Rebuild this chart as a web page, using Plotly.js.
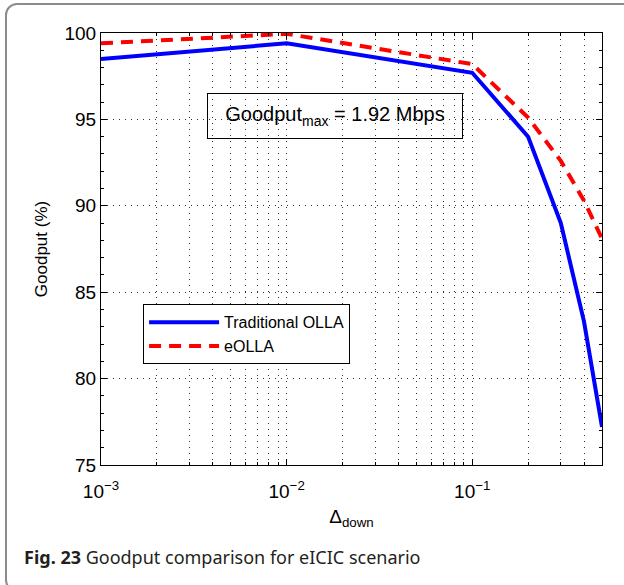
<!DOCTYPE html>
<html>
<head>
<meta charset="utf-8">
<script src="https://cdn.plot.ly/plotly-3.0.1.min.js"></script>
<style>
  html, body { margin: 0; padding: 0; background: #fff; }
  #frame { position: absolute; left: 5px; top: 3px; width: 700px; height: 585px;
           border: 2px solid #8c8c8c; border-radius: 12px; }
  #chart { position: absolute; left: 0; top: 0; width: 624px; height: 585px; }
</style>
</head>
<body>
<div id="frame"></div>
<div id="chart"></div>
<script>
// Data
const deltaDown = [0.001, 0.01, 0.1, 0.2, 0.3, 0.4, 0.5];
const traditionalOLLA = [98.5, 99.4, 97.7, 94.0, 89.0, 83.3, 77.2];
const eOLLA = [99.4, 99.95, 98.2, 95.1, 92.6, 90.3, 88.1];
const seriesNames = ['Traditional OLLA', 'eOLLA'];

const xMajorTicks = [0.001, 0.01, 0.1];
const xMajorLabels = ['10<sup>\u22123</sup>', '10<sup>\u22122</sup>', '10<sup>\u22121</sup>'];
const xMinorTicks = [0.002, 0.003, 0.004, 0.005, 0.006, 0.007, 0.008, 0.009,
                     0.02, 0.03, 0.04, 0.05, 0.06, 0.07, 0.08, 0.09,
                     0.2, 0.3, 0.4];
const yTicks = [75, 80, 85, 90, 95, 100];

const font = "'Liberation Sans', Arial, Helvetica, sans-serif";
const gridDash = '1px,5px';
const gridColor = '#333';

const traces = [
  { x: deltaDown, y: traditionalOLLA, name: seriesNames[0], type: 'scatter', mode: 'lines',
    line: { color: '#0000ff', width: 4 } },
  { x: deltaDown, y: eOLLA, name: seriesNames[1], type: 'scatter', mode: 'lines',
    line: { color: '#ff0000', width: 4, dash: '12px,8px' } }
];

const layout = {
  width: 624, height: 585,
  paper_bgcolor: 'rgba(0,0,0,0)', plot_bgcolor: '#fff',
  margin: { l: 101, r: 22, t: 33, b: 120 },
  font: { family: font, size: 19, color: '#000' },
  showlegend: true,
  legend: {
    x: 0.084, y: 0.372, xanchor: 'left', yanchor: 'top',
    bgcolor: '#fff', bordercolor: '#000', borderwidth: 1,
    font: { family: font, size: 16, color: '#000' },
    itemwidth: 70, tracegroupgap: 0
  },
  xaxis: {
    type: 'log', range: [-3, Math.log10(0.5)],
    tickmode: 'array', tickvals: xMajorTicks, ticktext: xMajorLabels,
    ticks: 'inside', ticklen: 6, tickcolor: '#000', ticklabelstandoff: 9,
    showline: true, linecolor: '#000', linewidth: 1, mirror: 'ticks',
    showgrid: true, gridcolor: gridColor, gridwidth: 1, griddash: gridDash,
    zeroline: false,
    tickfont: { family: font, size: 19 },
    minor: { tickmode: 'array', tickvals: xMinorTicks, ticks: 'inside', ticklen: 3,
             tickcolor: '#000', showgrid: true, gridcolor: gridColor, gridwidth: 1, griddash: gridDash },
    title: { text: '\u0394<sub>down</sub>', font: { family: font, size: 19 }, standoff: 8 }
  },
  yaxis: {
    range: [75, 100], tickmode: 'array', tickvals: yTicks,
    ticks: 'inside', ticklen: 6, tickcolor: '#000',
    showline: true, linecolor: '#000', linewidth: 1, mirror: 'ticks',
    showgrid: true, gridcolor: gridColor, gridwidth: 1, griddash: gridDash,
    zeroline: false,
    tickfont: { family: font, size: 19 },
    minor: { dtick: 1, ticks: 'inside', ticklen: 3, tickcolor: '#000', showgrid: false },
    title: { text: 'Goodput (%)', font: { family: font, size: 17 }, standoff: 12 }
  },
  annotations: [
    { xref: 'paper', yref: 'paper', x: 0.467, y: 0.809, xanchor: 'center', yanchor: 'middle',
      text: 'Goodput<sub>max</sub> = 1.92 Mbps', showarrow: false,
      font: { family: font, size: 20, color: '#000' },
      bordercolor: '#000', borderwidth: 1, width: 252, height: 42 },
    { xref: 'paper', yref: 'paper', x: -0.158, y: -0.212, xanchor: 'left', yanchor: 'middle',
      text: '<b>Fig. 23</b> Goodput comparison for eICIC scenario', showarrow: false,
      font: { family: "'Noto Sans', 'Open Sans', sans-serif", size: 18, color: '#231f20' } }
  ]
};

Plotly.newPlot('chart', traces, layout, { displayModeBar: false, staticPlot: true });
</script>
</body>
</html>
